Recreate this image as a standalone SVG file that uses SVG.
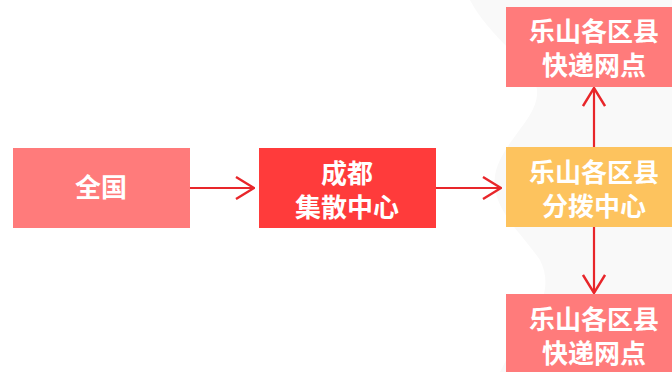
<svg xmlns="http://www.w3.org/2000/svg" width="672" height="372" viewBox="0 0 672 372">
<style>
.t{font-family:"Noto Sans CJK SC","Noto Sans",sans-serif;font-weight:bold;font-size:26px;fill:#ffffff;text-anchor:middle}
.c{stroke:#e8262a;stroke-width:2.2;fill:none}
</style>
<defs>
<marker id="ah" viewBox="0 0 20 24" refX="19" refY="12" markerWidth="20" markerHeight="24" markerUnits="userSpaceOnUse" orient="auto">
<path d="M1,1 L19,12 L1,23" fill="none" stroke="#e8262a" stroke-width="2.4"/>
</marker>
</defs>
<rect width="672" height="372" fill="#ffffff"/>
<path d="M470,0 L672,0 L672,372 L500,372 C520,330 560,300 540,260 C520,230 480,200 500,160 C520,120 560,100 520,60 C500,40 480,20 470,0 Z" fill="#f9f9f9"/>
<g id="connectors">
<line class="c" x1="190" y1="188" x2="254" y2="188" marker-end="url(#ah)"/>
<line class="c" x1="436" y1="188" x2="501" y2="188" marker-end="url(#ah)"/>
<line class="c" x1="594" y1="147" x2="594" y2="88" marker-end="url(#ah)"/>
<line class="c" x1="594" y1="227" x2="594" y2="293" marker-end="url(#ah)"/>
</g>
<g id="quanguo">
<rect x="13" y="148" width="177" height="80" fill="#ff7b7b"/>
<text class="t" x="101" y="197">全国</text>
</g>
<g id="chengdu">
<rect x="259" y="148" width="177" height="80" fill="#ff3b3b"/>
<text class="t" x="347" y="183">成都</text>
<text class="t" x="347" y="217">集散中心</text>
</g>
<g id="fenbo">
<rect x="506" y="147" width="177" height="80" fill="#fdc35e"/>
<text class="t" x="594" y="182">乐山各区县</text>
<text class="t" x="594" y="216">分拨中心</text>
</g>
<g id="wangdian-top">
<rect x="506" y="7" width="177" height="80" fill="#ff7b7b"/>
<text class="t" x="594" y="41">乐山各区县</text>
<text class="t" x="594" y="75">快递网点</text>
</g>
<g id="wangdian-bottom">
<rect x="506" y="294" width="177" height="80" fill="#ff7b7b"/>
<text class="t" x="594" y="329">乐山各区县</text>
<text class="t" x="594" y="363">快递网点</text>
</g>
</svg>
